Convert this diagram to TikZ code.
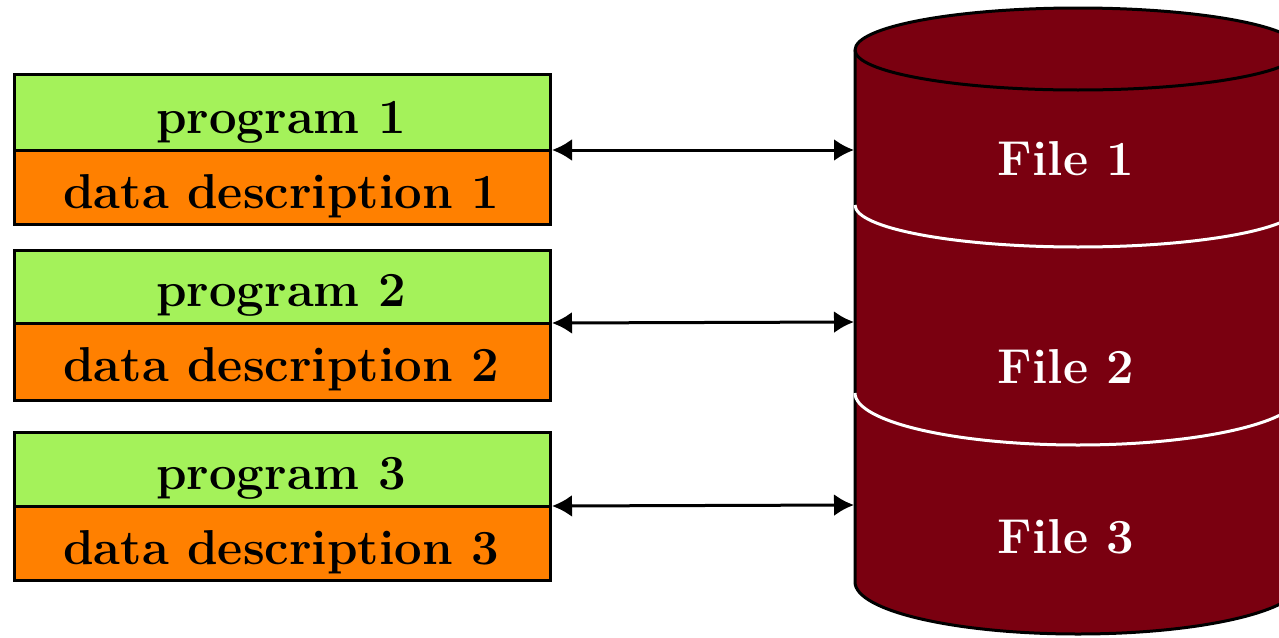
\documentclass[tikz,border=0pt]{standalone}
\usetikzlibrary{arrows.meta}
\definecolor{pgreen}{HTML}{A4F25A}
\definecolor{dorange}{HTML}{FF8000}
\definecolor{dbred}{HTML}{7A0010}
\begin{document}
\begin{tikzpicture}[x=1pt,y=-1pt,
  lbl/.style={font=\fontsize{49}{54}\selectfont\bfseries, text=black, anchor=base, inner sep=0pt},
  flbl/.style={font=\fontsize{49}{54}\selectfont\bfseries, text=white, anchor=base, inner sep=0pt},
  boxline/.style={draw=black, line width=3pt},
  conn/.style={line width=3pt, {Latex[length=20pt,width=22pt]}-{Latex[length=20pt,width=22pt]}}]
\useasboundingbox (0,0) rectangle (1279,637);
\clip (0,0) rectangle (1279,637);
% cylinder
\path[fill=dbred, draw=black, line width=3pt]
  (855,50) -- (855,582) arc[start angle=180, end angle=0, x radius=223, y radius=52]
  -- (1301,50) arc[start angle=0, end angle=-180, x radius=223, y radius=42] -- cycle;
\draw[black, line width=3pt] (855,50) arc[start angle=180, end angle=0, x radius=223, y radius=40];
\draw[white, line width=3pt] (855,205) arc[start angle=180, end angle=0, x radius=223, y radius=42];
\draw[white, line width=3pt] (855,393) arc[start angle=180, end angle=0, x radius=223, y radius=52];
\node[flbl] (f1) at (1066,175) {File 1};
\node[flbl] (f2) at (1066,383) {File 2};
\node[flbl] (f3) at (1066,553) {File 3};
\coordinate (c1) at (854,150);
\coordinate (c2) at (854,322);
\coordinate (c3) at (854,505);
% boxes
\foreach \i/\t/\m/\b in {1/74/150/224, 2/250/323/400, 3/432/506/580}{
  \fill[pgreen] (14,\t) rectangle (550,\m);
  \fill[dorange] (14,\m) rectangle (550,\b);
  \draw[boxline] (14,\t) rectangle (550,\b);
  \draw[boxline] (14,\m) -- (550,\m);
  \node[lbl] (p\i) at (281,{\m-17}) {program \i};
  \node[lbl] (d\i) at (281,{\m+58}) {data description \i};
  \coordinate (b\i) at (552,\m);
}
\draw[conn] (b1) -- (c1);
\draw[conn] (b2) -- (c2);
\draw[conn] (b3) -- (c3);
\end{tikzpicture}
\end{document}
